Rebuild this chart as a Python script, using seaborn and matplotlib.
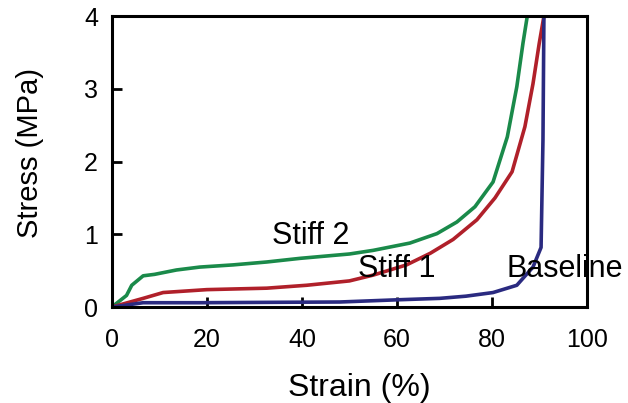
import numpy as np
import pandas as pd
import matplotlib
matplotlib.use('Agg')
import matplotlib.pyplot as plt
import seaborn as sns

# 곡선 데이터
stiff2_x = [0, 3.1, 4.2, 6.6, 9, 13.6, 18.5, 25.5, 32.6, 39.6, 46.5, 50, 55, 62.7, 68.4, 72.6, 76.4, 80.2, 83.2, 85.2, 86.5, 87.4]
stiff2_y = [0, 0.16, 0.30, 0.43, 0.45, 0.51, 0.55, 0.58, 0.62, 0.67, 0.71, 0.73, 0.78, 0.88, 1.01, 1.17, 1.38, 1.72, 2.34, 3.03, 3.63, 4.0]

stiff1_x = [0, 6.6, 10.8, 20, 32.6, 41, 50, 55, 62, 67, 71.8, 76.8, 80.6, 84.2, 86.9, 88.6, 89.9, 90.9]
stiff1_y = [0, 0.12, 0.20, 0.24, 0.26, 0.30, 0.36, 0.44, 0.58, 0.74, 0.93, 1.20, 1.50, 1.86, 2.48, 3.07, 3.62, 4.0]

base_x = [0, 6.6, 18.5, 32.6, 48, 60, 69, 74.5, 80.2, 85.2, 88.6, 90.3, 90.7, 90.9]
base_y = [0, 0.06, 0.06, 0.065, 0.07, 0.10, 0.12, 0.15, 0.20, 0.30, 0.55, 0.82, 2.3, 4.0]

labels = ['Stiff 2', 'Stiff 1', 'Baseline']
colors = ['#1a8a4a', '#b0202a', '#2a2a80']
x_ticks = [0, 20, 40, 60, 80, 100]
y_ticks = [0, 1, 2, 3, 4]

sns.set_style('ticks')
plt.rcParams['font.family'] = ['Liberation Sans', 'DejaVu Sans']
plt.rcParams['text.color'] = 'black'
plt.rcParams['axes.labelcolor'] = 'black'
plt.rcParams['xtick.color'] = 'black'
plt.rcParams['ytick.color'] = 'black'

fig = plt.figure(figsize=(6.28, 4.03), dpi=100)
ax = fig.add_axes([0.178, 0.238, 0.757, 0.722])

for xs, ys, c in zip([stiff2_x, stiff1_x, base_x], [stiff2_y, stiff1_y, base_y], colors):
    df = pd.DataFrame({'x': xs, 'y': ys})
    sns.lineplot(data=df, x='x', y='y', sort=False, color=c, linewidth=2.6, ax=ax)

# 곡선 라벨
ax.text(41.8, 0.98, labels[0], fontsize=22, ha='center', va='center')
ax.text(59.9, 0.53, labels[1], fontsize=22, ha='center', va='center')
ax.text(95.2, 0.53, labels[2], fontsize=22, ha='center', va='center', clip_on=False)

ax.set_xlim(0, 100)
ax.set_ylim(0, 4)
ax.set_xticks(x_ticks)
ax.set_yticks(y_ticks)
ax.tick_params(direction='in', length=7, width=2.0, labelsize=18, color='black', labelcolor='black')
ax.tick_params(axis='x', pad=15)
ax.tick_params(axis='y', pad=10)
for s in ax.spines.values():
    s.set_linewidth(2.2)
    s.set_color('black')

ax.set_xlabel('Strain (%)', fontsize=23)
ax.set_ylabel('Stress (MPa)', fontsize=21)
ax.xaxis.set_label_coords(0.52, -0.227)
ax.yaxis.set_label_coords(-0.142, 0.53)

plt.savefig('out.png', dpi=100)
plt.close()
